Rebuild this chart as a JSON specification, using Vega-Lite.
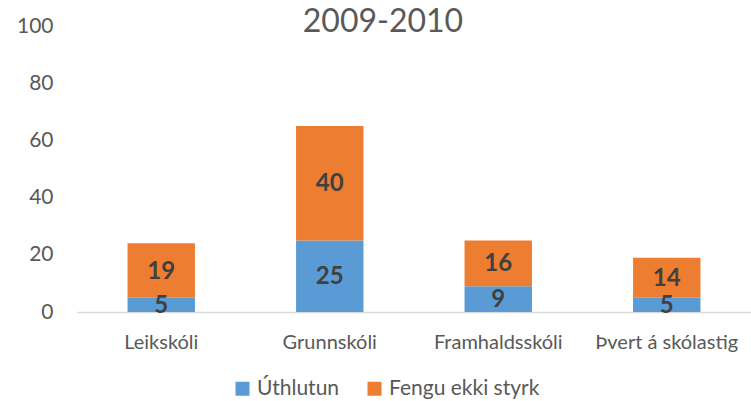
{
  "$schema": "https://vega.github.io/schema/vega-lite/v6.json",
  "width": 674,
  "height": 286,
  "autosize": {"type": "none"},
  "padding": {"left": 77, "top": 26, "right": 0, "bottom": 89},
  "background": "white",
  "config": {"view": {"stroke": null}, "font": "Lato"},
  "title": {
    "text": "2009-2010",
    "fontSize": 32,
    "font": "Lato",
    "fontWeight": "normal",
    "color": "#595959",
    "anchor": "middle",
    "frame": "group",
    "baseline": "top",
    "dx": -31,
    "dy": 24,
    "offset": 0
  },
  "data": {
    "values": [
      {"category": "Leikskóli", "series": "Úthlutun", "value": 5},
      {"category": "Leikskóli", "series": "Fengu ekki styrk", "value": 19},
      {"category": "Grunnskóli", "series": "Úthlutun", "value": 25},
      {"category": "Grunnskóli", "series": "Fengu ekki styrk", "value": 40},
      {"category": "Framhaldsskóli", "series": "Úthlutun", "value": 9},
      {"category": "Framhaldsskóli", "series": "Fengu ekki styrk", "value": 16},
      {"category": "Þvert á skólastig", "series": "Úthlutun", "value": 5},
      {"category": "Þvert á skólastig", "series": "Fengu ekki styrk", "value": 14}
    ]
  },
  "transform": [
    {"stack": "value", "groupby": ["category"], "sort": [{"field": "series", "order": "descending"}], "as": ["v0", "v1"]},
    {"calculate": "(datum.v0 + datum.v1) / 2", "as": "mid"}
  ],
  "encoding": {
    "x": {
      "field": "category",
      "type": "nominal",
      "sort": ["Leikskóli", "Grunnskóli", "Framhaldsskóli", "Þvert á skólastig"],
      "scale": {"paddingInner": 0.6, "paddingOuter": 0.3},
      "axis": {
        "title": null,
        "labelAngle": 0,
        "ticks": false,
        "domainColor": "#D9D9D9",
        "domainWidth": 1.5,
        "labelFontSize": 20,
        "labelColor": "#595959",
        "labelPadding": 20,
        "labelFont": "Lato"
      }
    }
  },
  "layer": [
    {
      "mark": {"type": "bar"},
      "encoding": {
        "y": {
          "field": "v0",
          "type": "quantitative",
          "scale": {"domain": [0, 100]},
          "axis": {
            "title": null,
            "values": [0, 20, 40, 60, 80, 100],
            "grid": false,
            "domain": false,
            "ticks": false,
            "labelFontSize": 21,
            "labelColor": "#595959",
            "labelPadding": 24,
            "labelFont": "Lato"
          }
        },
        "y2": {"field": "v1"},
        "color": {
          "field": "series",
          "type": "nominal",
          "scale": {"domain": ["Úthlutun", "Fengu ekki styrk"], "range": ["#5B9BD5", "#ED7D31"]},
          "legend": {
            "title": null,
            "orient": "none",
            "legendX": 155,
            "legendY": 352,
            "direction": "horizontal",
            "symbolType": "square",
            "symbolSize": 196,
            "symbolStrokeWidth": 0,
            "labelFontSize": 21,
            "labelColor": "#595959",
            "labelFont": "Lato",
            "columnPadding": 24,
            "labelOffset": 4
          }
        }
      }
    },
    {
      "mark": {"type": "text", "fontWeight": "bold", "fontSize": 24, "color": "#404040", "baseline": "middle", "font": "Lato", "dy": 1},
      "encoding": {
        "y": {"field": "mid", "type": "quantitative"},
        "text": {"field": "value", "type": "quantitative"}
      }
    }
  ]
}
